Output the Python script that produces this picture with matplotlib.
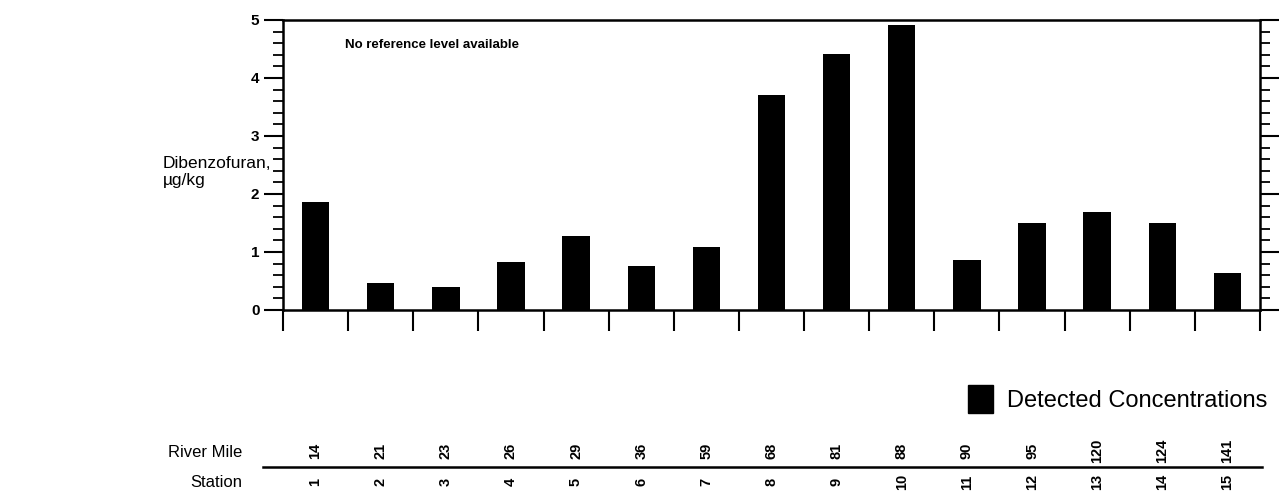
import matplotlib
matplotlib.use("Agg")
import matplotlib.pyplot as plt
import matplotlib.transforms as mtransforms
from matplotlib.patches import Rectangle
from matplotlib.ticker import MultipleLocator

plt.rcParams["font.family"] = ["Liberation Sans", "DejaVu Sans"]

# Data
stations = [1, 2, 3, 4, 5, 6, 7, 8, 9, 10, 11, 12, 13, 14, 15]
river_miles = [14, 21, 23, 26, 29, 36, 59, 68, 81, 88, 90, 95, 120, 124, 141]
dibenzofuran = [1.86, 0.47, 0.40, 0.83, 1.28, 0.75, 1.09, 3.71, 4.41, 4.91,
                0.87, 1.50, 1.69, 1.50, 0.63]

fig = plt.figure(figsize=(12.84, 4.97), dpi=100)
ax = fig.add_axes([0.2204, 0.3763, 0.7609, 0.5835])

ax.bar(stations, dibenzofuran, width=0.42, color="black")

ax.set_xlim(0.5, len(stations) + 0.5)
ax.set_ylim(0, 5)

# bottom ticks sit between the bars
ax.set_xticks([s - 0.5 for s in stations] + [len(stations) + 0.5])
ax.set_xticklabels([])
ax.tick_params(axis="x", direction="out", length=15, width=1.5)

ax.yaxis.set_major_locator(MultipleLocator(1))
ax.yaxis.set_minor_locator(MultipleLocator(0.2))
ax.tick_params(axis="y", which="major", direction="out", length=14, width=1.5,
               left=True, right=True, labelsize=11, pad=3)
ax.tick_params(axis="y", which="minor", direction="out", length=7, width=1.3,
               left=True, right=True)
for lab in ax.get_yticklabels():
    lab.set_fontweight("bold")

for sp in ax.spines.values():
    sp.set_linewidth(1.8)

ax.text(0.063, 0.914, "No reference level available", transform=ax.transAxes,
        fontsize=9.5, fontweight="bold", va="center", ha="left")

fig.text(0.127, 0.654, "Dibenzofuran,\nµg/kg", fontsize=12.5, ha="left",
         va="center", linespacing=1.15)

# table under the axis: river mile / station
trans = mtransforms.blended_transform_factory(ax.transData, fig.transFigure)
for s, rm in zip(stations, river_miles):
    fig.text(s, 0.092, str(rm), transform=trans, rotation=90, fontsize=10.5,
             fontweight="bold", ha="center", va="center")
    fig.text(s, 0.030, str(s), transform=trans, rotation=90, fontsize=10.5,
             fontweight="bold", ha="center", va="center")

fig.text(0.189, 0.090, "River Mile", fontsize=12, ha="right", va="center")
fig.text(0.189, 0.030, "Station", fontsize=12, ha="right", va="center")
fig.add_artist(plt.Line2D([0.205, 0.983], [0.060, 0.060], color="black",
                          lw=1.8, transform=fig.transFigure))

# legend
fig.add_artist(Rectangle((0.754, 0.169), 0.019, 0.056, color="black",
                         transform=fig.transFigure))
fig.text(0.784, 0.193, "Detected Concentrations", fontsize=17, ha="left",
         va="center")

fig.savefig("out.png", dpi=100)
